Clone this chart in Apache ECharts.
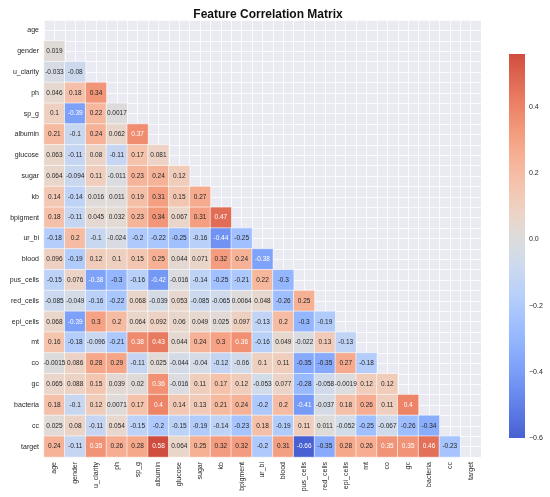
<!DOCTYPE html>
<html lang="en">
<head>
<meta charset="UTF-8">
<title>Feature Correlation Matrix</title>
<style>
  html, body { margin: 0; padding: 0; background: #fff; }
</style>
</head>
<body>
<div id="main" style="width: 550px; height: 497px;"></div>

<script src="https://cdn.jsdelivr.net/npm/echarts@6/dist/echarts.min.js"></script>
<script type="text/javascript">
// feature names (rows top->bottom, columns left->right)
var features = ['age', 'gender', 'u_clarity', 'ph', 'sp_g', 'albumin', 'glucose', 'sugar', 'kb', 'bpigment',
    'ur_bi', 'blood', 'pus_cells', 'red_cells', 'epi_cells', 'mt', 'co', 'gc', 'bacteria', 'cc', 'target'];

// lower triangle of the correlation matrix, one row per feature (row i has i values)
var rowAge = [];
var rowGender = [0.019];
var rowUClarity = [-0.033, -0.08];
var rowPh = [0.046, 0.18, 0.34];
var rowSpG = [0.1, -0.39, 0.22, 0.0017];
var rowAlbumin = [0.21, -0.1, 0.24, 0.062, 0.37];
var rowGlucose = [0.063, -0.11, 0.08, -0.11, 0.17, 0.081];
var rowSugar = [0.064, -0.094, 0.11, -0.011, 0.23, 0.24, 0.12];
var rowKb = [0.14, -0.14, 0.016, 0.011, 0.19, 0.31, 0.15, 0.27];
var rowBpigment = [0.18, -0.11, 0.045, 0.032, 0.23, 0.34, 0.067, 0.31, 0.47];
var rowUrBi = [-0.18, 0.2, -0.1, -0.024, -0.2, -0.22, -0.25, -0.16, -0.44, -0.25];
var rowBlood = [0.096, -0.19, 0.12, 0.1, 0.15, 0.25, 0.044, 0.071, 0.32, 0.24, -0.38];
var rowPusCells = [-0.15, 0.076, -0.38, -0.3, -0.16, -0.42, -0.016, -0.14, -0.25, -0.21, 0.22, -0.3];
var rowRedCells = [-0.085, -0.049, -0.16, -0.22, 0.068, -0.039, 0.053, -0.085, -0.065, 0.0064, 0.048, -0.26, 0.25];
var rowEpiCells = [0.068, -0.39, 0.3, 0.2, 0.064, 0.092, 0.06, 0.049, 0.025, 0.097, -0.13, 0.2, -0.3, -0.19];
var rowMt = [0.16, -0.18, -0.096, -0.21, 0.38, 0.43, 0.044, 0.24, 0.3, 0.36, -0.16, 0.049, -0.022, 0.13, -0.13];
var rowCo = [-0.0015, 0.086, 0.28, 0.29, -0.11, 0.025, -0.044, -0.04, -0.12, -0.06, 0.1, 0.11, -0.35, -0.35, 0.27, -0.18];
var rowGc = [0.065, 0.088, 0.15, 0.039, 0.02, 0.36, -0.016, 0.11, 0.17, 0.12, -0.053, 0.077, -0.28, -0.058, -0.0019, 0.12, 0.12];
var rowBacteria = [0.18, -0.1, 0.12, 0.0071, 0.17, 0.4, 0.14, 0.13, 0.21, 0.24, -0.2, 0.2, -0.41, -0.037, 0.18, 0.26, 0.11, 0.4];
var rowCc = [0.025, 0.08, -0.11, 0.054, -0.15, -0.2, -0.15, -0.19, -0.14, -0.23, 0.18, -0.19, 0.11, 0.011, -0.052, -0.25, -0.067, -0.26, -0.34];
var rowTarget = [0.24, -0.11, 0.35, 0.26, 0.28, 0.58, 0.064, 0.25, 0.32, 0.32, -0.2, 0.31, -0.66, -0.35, 0.28, 0.26, 0.35, 0.35, 0.46, -0.23];

var rows = [rowAge, rowGender, rowUClarity, rowPh, rowSpG, rowAlbumin, rowGlucose, rowSugar, rowKb, rowBpigment,
    rowUrBi, rowBlood, rowPusCells, rowRedCells, rowEpiCells, rowMt, rowCo, rowGc, rowBacteria, rowCc, rowTarget];

// colour bar range and its tick step
var cbarMin = -0.6;
var cbarMax = 0.56;
var cbarStep = 0.2;

// coolwarm colormap, 17 evenly spaced samples (0 -> 1)
var coolwarm = [
    [59, 76, 192], [77, 104, 215], [98, 130, 234], [119, 154, 247], [141, 176, 254],
    [162, 193, 255], [184, 208, 249], [204, 217, 238], [221, 221, 221], [236, 211, 197],
    [245, 196, 173], [247, 177, 149], [244, 154, 123], [235, 128, 100], [221, 101, 81],
    [203, 70, 58], [180, 4, 38]
];

function coolwarmAt(p) {
    p = Math.max(0, Math.min(1, p));
    var f = p * (coolwarm.length - 1);
    var i = Math.min(Math.floor(f), coolwarm.length - 2);
    var t = f - i;
    var a = coolwarm[i], b = coolwarm[i + 1];
    return 'rgb(' + [0, 1, 2].map(function (k) { return Math.round(a[k] + (b[k] - a[k]) * t); }).join(',') + ')';
}

var cells = [];
var maxAbs = 0;
rows.forEach(function (r, i) {
    r.forEach(function (v, j) {
        cells.push([j, i, v]);
        maxAbs = Math.max(maxAbs, Math.abs(v));
    });
});

// colormap centred on 0, spread over +-maxAbs, sampled across the colour bar range
var nStops = 24;
var cbarColors = [];
var gradStops = [];
for (var k = 0; k <= nStops; k++) {
    var v = cbarMin + (cbarMax - cbarMin) * k / nStops;
    var c = coolwarmAt(0.5 + v / (2 * maxAbs));
    cbarColors.push(c);
    gradStops.push({ offset: 1 - k / nStops, color: c });
}

var txt = '#262626';
var font = 'Liberation Sans';

var myChart = echarts.init(document.getElementById('main'));
option = {
    textStyle: { fontFamily: font },
    title: {
        text: 'Feature Correlation Matrix',
        left: 263,
        textAlign: 'center',
        top: 4,
        textStyle: { fontSize: 12, fontWeight: 'bold', color: '#111', fontFamily: font }
    },
    grid: [
        { left: 44, top: 20, width: 437, height: 437, show: true, backgroundColor: '#eaeaf2', borderWidth: 0 },
        {   // colour bar
            left: 509, top: 54, width: 16, height: 384, show: true, borderWidth: 0,
            backgroundColor: new echarts.graphic.LinearGradient(0, 0, 0, 1, gradStops)
        }
    ],
    xAxis: [
        {
            type: 'category', data: features, gridIndex: 0,
            axisLine: { show: false }, axisTick: { show: false }, splitLine: { show: false },
            axisLabel: { rotate: 90, interval: 0, fontSize: 7, color: txt, margin: 5 }
        },
        {   // background grid lines at cell edges and centres
            type: 'value', gridIndex: 0, min: 0, max: 42, interval: 1, position: 'top',
            axisLine: { show: false }, axisTick: { show: false }, axisLabel: { show: false },
            splitLine: { show: true, lineStyle: { color: '#ffffff', width: 0.8 } }
        },
        {
            type: 'value', gridIndex: 1, show: false
        }
    ],
    yAxis: [
        {
            type: 'category', data: features, gridIndex: 0, inverse: true,
            axisLine: { show: false }, axisTick: { show: false }, splitLine: { show: false },
            axisLabel: { interval: 0, fontSize: 7, color: txt, margin: 5 }
        },
        {
            type: 'value', gridIndex: 0, min: 0, max: 42, interval: 1, position: 'right',
            axisLine: { show: false }, axisTick: { show: false }, axisLabel: { show: false },
            splitLine: { show: true, lineStyle: { color: '#ffffff', width: 0.8 } }
        },
        {   // colour bar ticks
            type: 'value', gridIndex: 1, min: cbarMin, max: cbarMax, interval: cbarStep, position: 'right',
            axisLine: { show: false }, splitLine: { show: false },
            axisTick: { show: false },
            axisLabel: {
                fontSize: 7, color: txt, margin: 4, showMaxLabel: false,
                formatter: function (v) { return v.toFixed(1).replace('-', '\u2212'); }
            }
        }
    ],
    visualMap: {
        type: 'continuous',
        show: false,
        seriesIndex: 0,
        min: cbarMin,
        max: cbarMax,
        inRange: { color: cbarColors }
    },
    series: [
        {
            type: 'heatmap',
            xAxisIndex: 0,
            yAxisIndex: 0,
            itemStyle: { borderColor: '#ffffff', borderWidth: 0.6 },
            label: {
                show: true,
                fontSize: 6.5,
                fontFamily: font,
                formatter: function (p) { return String(p.value[2]); },
                color: txt
            },
            // light text on the darker cells
            data: cells.map(function (c) {
                var v = c[2];
                var light = v > 0.345 || v < -0.355;
                return { value: c, label: { color: light ? '#ffffff' : txt } };
            })
        }
    ]
};
myChart.setOption(option);
</script>
</body>
</html>
